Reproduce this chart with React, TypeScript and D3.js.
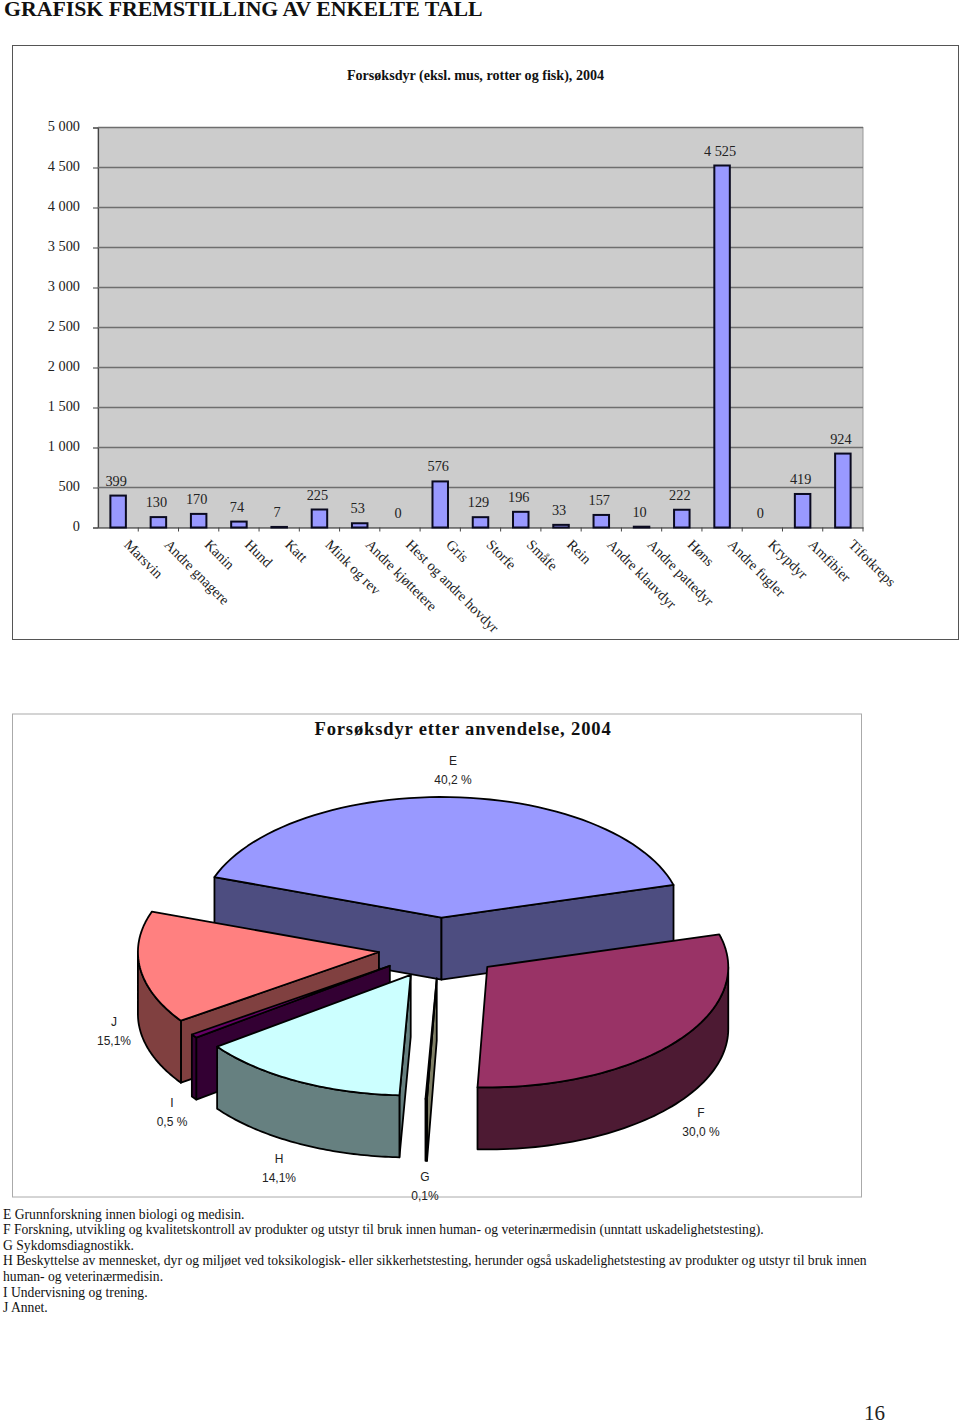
import React, { useEffect, useRef } from 'react';
import * as d3 from 'd3';

// bar chart data
const animals = [
	'Marsvin',
	'Andre gnagere',
	'Kanin',
	'Hund',
	'Katt',
	'Mink og rev',
	'Andre kjøttetere',
	'Hest og andre hovdyr',
	'Gris',
	'Storfe',
	'Småfe',
	'Rein',
	'Andre klauvdyr',
	'Andre pattedyr',
	'Høns',
	'Andre fugler',
	'Krypdyr',
	'Amfibier',
	'Tifotkreps',
];
const animalCounts = [
	399, 130, 170, 74, 7, 225, 53, 0, 576, 129, 196, 33, 157, 10, 222, 4525, 0,
	419, 924,
];
const countTicks = [0, 500, 1000, 1500, 2000, 2500, 3000, 3500, 4000, 4500, 5000];

// pie chart data
const useCodes = ['E', 'F', 'G', 'H', 'I', 'J'];
const useShares = [40.2, 30.0, 0.1, 14.1, 0.5, 15.1];
const useLabels = ['40,2 %', '30,0 %', '0,1%', '14,1%', '0,5 %', '15,1%'];

const notes = [
	'E Grunnforskning innen biologi og medisin.',
	'F Forskning, utvikling og kvalitetskontroll av produkter og utstyr til bruk innen human- og veterinærmedisin (unntatt uskadelighetstesting).',
	'G Sykdomsdiagnostikk.',
	'H Beskyttelse av mennesket, dyr og miljøet ved toksikologisk- eller sikkerhetstesting, herunder også uskadelighetstesting av produkter og utstyr til bruk innen',
	'human- og veterinærmedisin.',
	'I Undervisning og trening.',
	'J Annet.',
];

const SERIF = '"Liberation Serif", serif';
const SANS = '"Liberation Sans", sans-serif';
const DEG = Math.PI / 180;

// top colour of each slice, walls are the same colour at half brightness
const sliceColors: Record<string, string> = {
	E: '#9999ff',
	F: '#993366',
	G: '#ffffcc',
	H: '#ccffff',
	I: '#660066',
	J: '#ff8080',
};
// label anchor of each slice (centre of the two text lines)
const labelSpots: Record<string, [number, number]> = {
	E: [453, 770],
	F: [701, 1122],
	G: [425, 1186],
	H: [279, 1168],
	I: [172, 1112],
	J: [114, 1031],
};

const App: React.FC = () => {
	const ref = useRef<SVGSVGElement>(null);

	useEffect(() => {
		if (!ref.current) return;
		const svg = d3.select(ref.current);
		svg.selectAll('*').remove();

		svg
			.append('text')
			.attr('x', 4)
			.attr('y', 16)
			.attr('font-family', SERIF)
			.attr('font-size', 21.8)
			.attr('font-weight', 'bold')
			.attr('fill', '#111')
			.text('GRAFISK FREMSTILLING AV ENKELTE TALL');

		// --- Bar chart ---
		svg
			.append('rect')
			.attr('x', 12.5)
			.attr('y', 45.5)
			.attr('width', 946)
			.attr('height', 594)
			.attr('fill', 'white')
			.attr('stroke', '#555')
			.attr('stroke-width', 1);

		svg
			.append('text')
			.attr('x', 475.5)
			.attr('y', 79.5)
			.attr('text-anchor', 'middle')
			.attr('font-family', SERIF)
			.attr('font-size', 14.1)
			.attr('font-weight', 'bold')
			.attr('fill', '#111')
			.text('Forsøksdyr (eksl. mus, rotter og fisk), 2004');

		const x = d3.scaleBand<string>().domain(animals).range([98, 863]);
		const y = d3.scaleLinear().domain([0, 5000]).range([527.5, 127.5]);

		svg
			.append('rect')
			.attr('x', 98)
			.attr('y', y(5000))
			.attr('width', 765)
			.attr('height', 400)
			.attr('fill', '#cccccc')
			.attr('stroke', '#999')
			.attr('stroke-width', 1);

		const yAxis = svg
			.append('g')
			.attr('transform', 'translate(98,0)')
			.call(
				d3
					.axisLeft(y)
					.tickValues(countTicks)
					.tickSize(5)
					.tickPadding(13)
					.tickFormat((d) => d3.format(',')(d as number).replace(',', ' ')),
			);
		yAxis.select('.domain').attr('stroke', '#444').attr('stroke-width', 1.2);
		yAxis.selectAll('.tick line').attr('stroke', '#444');
		yAxis
			.selectAll('text')
			.attr('dy', '0.2em')
			.attr('font-family', SERIF)
			.attr('font-size', 14.3)
			.attr('fill', '#222');

		svg
			.append('g')
			.selectAll('line')
			.data(countTicks.filter((d) => d > 0))
			.enter()
			.append('line')
			.attr('x1', 98)
			.attr('x2', 863)
			.attr('y1', (d) => y(d))
			.attr('y2', (d) => y(d))
			.attr('stroke', '#6e6e6e')
			.attr('stroke-width', 1.3);

		const xAxis = svg
			.append('g')
			.attr('transform', `translate(0,${y(0)})`)
			.call(d3.axisBottom(x).tickSize(0).tickFormat(() => ''));
		xAxis.select('.domain').attr('stroke', '#666').attr('stroke-width', 1.4);

		svg
			.append('g')
			.selectAll('line')
			.data(animals.slice(1).concat(''))
			.enter()
			.append('line')
			.attr('x1', (d, i) => 98 + (i + 1) * x.step())
			.attr('x2', (d, i) => 98 + (i + 1) * x.step())
			.attr('y1', y(0))
			.attr('y2', y(0) + 4)
			.attr('stroke', '#444');

		const barWidth = 15.5;
		svg
			.append('g')
			.selectAll('rect')
			.data(animalCounts.map((v, i) => ({ v, name: animals[i] })).filter((d) => d.v > 0))
			.enter()
			.append('rect')
			.attr('x', (d) => (x(d.name) as number) + (x.bandwidth() - barWidth) / 2)
			.attr('y', (d) => y(d.v))
			.attr('width', barWidth)
			.attr('height', (d) => y(0) - y(d.v))
			.attr('fill', '#9999ff')
			.attr('stroke', '#0a0a20')
			.attr('stroke-width', 2);

		svg
			.append('g')
			.selectAll('text')
			.data(animalCounts.map((v, i) => ({ v, name: animals[i] })))
			.enter()
			.append('text')
			.attr('x', (d) => (x(d.name) as number) + x.bandwidth() / 2 - 2)
			.attr('y', (d) => y(d.v) - 10)
			.attr('text-anchor', 'middle')
			.attr('font-family', SERIF)
			.attr('font-size', 14.3)
			.attr('fill', '#222')
			.text((d) => d3.format(',')(d.v).replace(',', ' '));

		svg
			.append('g')
			.selectAll('text')
			.data(animals)
			.enter()
			.append('text')
			.attr(
				'transform',
				(d) =>
					`translate(${(x(d) as number) + x.bandwidth() / 2 + 5},${y(0) + 18}) rotate(45)`,
			)
			.attr('font-family', SERIF)
			.attr('font-size', 14.4)
			.attr('fill', '#222')
			.text((d) => d);

		// --- Pie chart ---
		svg
			.append('rect')
			.attr('x', 12.5)
			.attr('y', 714)
			.attr('width', 849)
			.attr('height', 483)
			.attr('fill', 'white')
			.attr('stroke', '#aaa')
			.attr('stroke-width', 1);

		svg
			.append('text')
			.attr('x', 463)
			.attr('y', 735)
			.attr('text-anchor', 'middle')
			.attr('font-family', SERIF)
			.attr('font-size', 18.6)
			.attr('font-weight', 'bold')
			.attr('letter-spacing', 0.82)
			.attr('fill', '#111')
			.text('Forsøksdyr etter anvendelse, 2004');

		const cx = 439.4;
		const cy = 948;
		const rx = 241;
		const squash = 0.5;
		const depth = 62;
		const explode = 61;
		const start = -70.4 * DEG;

		const slices = d3
			.pie<number>()
			.sort(null)
			.startAngle(start)
			.endAngle(start + 2 * Math.PI)(useShares);

		const line = d3.line();
		const rim = (a: number): [number, number] => [
			rx * Math.sin(a),
			-rx * squash * Math.cos(a),
		];
		const arcPoints = (a0: number, a1: number) =>
			d3.range(0, 61).map((i) => rim(a0 + ((a1 - a0) * i) / 60));

		const shade = (c: string) => {
			const col = d3.rgb(c);
			return d3.rgb(col.r / 2, col.g / 2, col.b / 2).formatHex();
		};

		// back to front
		const drawOrder = ['E', 'J', 'I', 'H', 'F', 'G'];
		drawOrder.forEach((code) => {
			const s = slices[useCodes.indexOf(code)];
			const mid = (s.startAngle + s.endAngle) / 2;
			const g = svg
				.append('g')
				.attr(
					'transform',
					`translate(${cx + explode * Math.sin(mid)},${cy - explode * squash * Math.cos(mid)})`,
				)
				.attr('stroke', '#000')
				.attr('stroke-width', 1.8)
				.attr('stroke-linejoin', 'round');
			const top = sliceColors[code];
			const wall = shade(top);

			const flatWall = (a: number) => {
				const p = rim(a);
				g.append('path')
					.attr('d', line([[0, 0], p, [p[0], p[1] + depth], [0, depth]]) + 'Z')
					.attr('fill', wall);
			};
			// a cut face shows only when it turns towards the viewer
			if (Math.sin(s.startAngle) < 0) flatWall(s.startAngle);
			if (Math.sin(s.endAngle) > 0) flatWall(s.endAngle);

			// outer wall, only the front half of the rim
			const from = Math.max(s.startAngle, Math.PI / 2);
			const to = Math.min(s.endAngle, 1.5 * Math.PI);
			if (to > from) {
				const upper = arcPoints(from, to);
				const lower = upper
					.map((p) => [p[0], p[1] + depth] as [number, number])
					.reverse();
				g.append('path')
					.attr('d', line(upper.concat(lower)) + 'Z')
					.attr('fill', wall);
			}

			g.append('path')
				.attr(
					'd',
					line(([[0, 0]] as [number, number][]).concat(arcPoints(s.startAngle, s.endAngle))) +
						'Z',
				)
				.attr('fill', top);
		});

		useCodes.forEach((code, i) => {
			const [lx, ly] = labelSpots[code];
			const lab = svg
				.append('text')
				.attr('text-anchor', 'middle')
				.attr('font-family', SANS)
				.attr('font-size', 12)
				.attr('fill', '#222');
			lab.append('tspan').attr('x', lx).attr('y', ly - 5).text(code);
			lab.append('tspan').attr('x', lx).attr('y', ly + 13.5).text(useLabels[i]);
		});

		// --- Notes ---
		svg
			.append('g')
			.selectAll('text')
			.data(notes)
			.enter()
			.append('text')
			.attr('x', 3)
			.attr('y', (d, i) => 1218.5 + i * 15.6)
			.attr('font-family', SERIF)
			.attr('font-size', 13.64)
			.attr('fill', '#111')
			.text((d) => d);

		svg
			.append('text')
			.attr('x', 864)
			.attr('y', 1420)
			.attr('font-family', SERIF)
			.attr('font-size', 21)
			.attr('fill', '#222')
			.text('16');
	}, []);

	return (
		<svg
			ref={ref}
			width={960}
			height={1423}
			style={{ position: 'absolute', left: 0, top: 0, background: 'white' }}
		/>
	);
};

export default App;
